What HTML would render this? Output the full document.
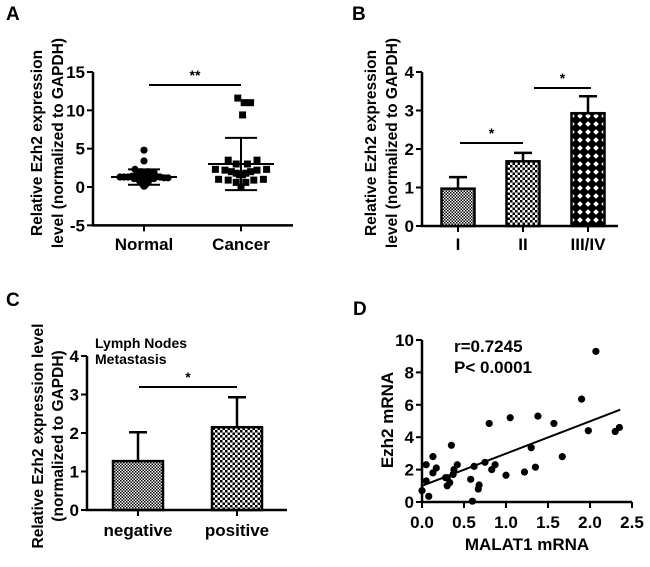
<!DOCTYPE html>
<html><head><meta charset="utf-8"><style>
body{margin:0;background:#fff}
svg text{font-family:"Liberation Sans",Arial,sans-serif;font-weight:bold;fill:#000}
</style></head><body>
<svg id="fig" width="650" height="562" viewBox="0 0 650 562" xmlns="http://www.w3.org/2000/svg">
<defs>
<pattern id="pFine" width="3" height="3" patternUnits="userSpaceOnUse"><rect width="3" height="3" fill="#fff"/><rect width="1.5" height="1.5" fill="#000"/><rect x="1.5" y="1.5" width="1.5" height="1.5" fill="#000"/></pattern>
<pattern id="pMed" width="5" height="5" patternUnits="userSpaceOnUse"><rect width="5" height="5" fill="#fff"/><rect width="2.5" height="2.5" fill="#000"/><rect x="2.5" y="2.5" width="2.5" height="2.5" fill="#000"/></pattern>
<pattern id="pDiam" width="8" height="8" patternUnits="userSpaceOnUse"><rect width="8" height="8" fill="#000"/><path d="M4 1.2 L6.8 4 L4 6.8 L1.2 4 Z" fill="#fff"/></pattern>
</defs>
<g id="A"></g>
<g id="B"></g>
<g id="C"></g>
<g id="D"></g>
</svg>
<script>
// Panel A data
const aCategories=["Normal","Cancer"];
const aNormalValues=[4.8,3.4,2.3,2.0,2.0,1.9,1.8,1.6,1.5,1.5,1.4,1.4,1.3,1.3,1.3,1.2,1.2,1.2,1.1,1.1,1.0,1.0,0.9,0.8,0.7,0.6,0.5,0.4,0.3,0.2,0.1,1.3,1.2];
const aNormalOffsets=[0,0,-9,-3,4,10,-6,1,-8,8,-12,12,-16,16,-20,20,-4,4,-10,10,-6,6,-3,3,-4,4,-2,2,-1,1,0,-24,24];
const aCancerValues=[11.6,11.0,11.0,9.4,3.5,3.5,3.0,3.0,2.3,2.3,2.2,2.2,2.0,2.0,1.8,1.8,1.6,1.6,1.0,1.0,0.9,0.9,0.6,0.6,0.0];
const aCancerOffsets=[-2,2,6,1,-8,10,-3,4,-16,16,-10,10,-6,6,-3,3,-1,1,-14,14,-8,8,-3,3,0];
const aMeans=[1.3,3.0];
const aSD=[1.0,3.4];
const aTicks=[-5,0,5,10,15];
// Panel B data
const bCategories=["I","II","III/IV"];
const bValues=[0.97,1.68,2.93];
const bErrors=[0.3,0.22,0.44];
const bTicks=[0,1,2,3,4];
// Panel C data
const cCategories=["negative","positive"];
const cValues=[1.27,2.15];
const cErrors=[0.75,0.78];
const cTicks=[0,1,2,3,4];
// Panel D data
const dX=[0.0,0.05,0.05,0.08,0.13,0.13,0.17,0.28,0.3,0.33,0.35,0.37,0.38,0.42,0.58,0.6,0.62,0.67,0.68,0.75,0.8,0.83,0.87,1.0,1.05,1.22,1.3,1.35,1.38,1.57,1.67,1.9,1.98,2.07,2.3,2.35,0.3];
const dY=[0.7,2.3,1.3,0.35,2.8,1.8,2.1,1.5,1.0,1.2,3.5,1.7,2.0,2.3,1.4,0.05,2.2,0.8,1.05,2.45,4.85,2.0,2.3,1.65,5.2,1.85,3.35,2.15,5.3,4.85,2.8,6.35,4.4,9.3,4.35,4.6,1.5];
const dFitX=[0,2.36];
const dFitY=[1.0,5.7];
const dXTicks=[0,0.5,1,1.5,2,2.5];
const dYTicks=[0,2,4,6,8,10];

const NS="http://www.w3.org/2000/svg";
function mk(parent,tag,attrs,txt){const e=document.createElementNS(NS,tag);for(const k in attrs)e.setAttribute(k,attrs[k]);if(txt!==undefined)e.textContent=txt;parent.appendChild(e);return e;}
function lin(d0,d1,r0,r1){return v=>r0+(v-d0)*(r1-r0)/(d1-d0);}
function yAxis(g,x,y,ticks,fmt,y0,y1){
  const ax=mk(g,'line',{x1:x,x2:x,y1:y(ticks[0])+1,y2:y(ticks[ticks.length-1]),stroke:'#000','stroke-width':2.5});
  
  
  ticks.forEach(t=>{mk(g,'line',{x1:x-6,x2:x,y1:y(t),y2:y(t),stroke:'#000','stroke-width':2});
    const tx=mk(g,'text',{x:x-8,y:y(t)+6,'text-anchor':'end','font-size':17},fmt(t));
    
    });
}
function rotLabel(g,cx,cy,lines,size,gap){
  lines.forEach((l,i)=>{const t=mk(g,'text',{x:0,y:0,'text-anchor':'middle','font-size':size,transform:`translate(${cx+i*gap},${cy}) rotate(-90)`},l);
    
    });
}
function panelLetter(g,x,y,s){const t=mk(g,'text',{x:x,y:y,'font-size':19},s);
  
  }
function sig(g,x1,x2,y,s){mk(g,'line',{x1:x1,x2:x2,y1:y,y2:y,stroke:'#000','stroke-width':2});
  const t=mk(g,'text',{x:(x1+x2)/2,y:y-5,'text-anchor':'middle','font-size':14,'font-weight':'normal'},s);
  
  }

// ---- Panel A
(function(){
const g=document.getElementById('A');
panelLetter(g,6,20,'A');
const y=lin(0,15,187,72);
const xc=[144,241];
yAxis(g,93,y,aTicks,t=>t,0,0);
const xa=mk(g,'line',{x1:92,x2:293,y1:y(-5),y2:y(-5),stroke:'#000','stroke-width':2.5});


aCategories.forEach((c,i)=>{mk(g,'line',{x1:xc[i],x2:xc[i],y1:y(-5),y2:y(-5)+6,stroke:'#000','stroke-width':2});
  const t=mk(g,'text',{x:xc[i],y:250,'text-anchor':'middle','font-size':17},c);
  
  });
rotLabel(g,42,143,['Relative Ezh2 expression','level (normalized to GAPDH)'],15.5,21);
aNormalValues.forEach((v,i)=>{const c=mk(g,'circle',{cx:xc[0]+aNormalOffsets[i],cy:y(v),r:3.6,fill:'#000'});
  
  });
aCancerValues.forEach((v,i)=>{const r=mk(g,'rect',{x:xc[1]+aCancerOffsets[i]*1.6-3.5,y:y(v)-3.5,width:7,height:7,fill:'#000'});
  
  });
aMeans.forEach((m,i)=>{
  const eb=mk(g,'g',{});
  
  
  mk(eb,'line',{x1:xc[i]-33,x2:xc[i]+33,y1:y(m),y2:y(m),stroke:'#000','stroke-width':2});
  mk(eb,'line',{x1:xc[i],x2:xc[i],y1:y(m-aSD[i]),y2:y(m+aSD[i]),stroke:'#000','stroke-width':2});
  [m-aSD[i],m+aSD[i]].forEach(v=>mk(eb,'line',{x1:xc[i]-16,x2:xc[i]+16,y1:y(v),y2:y(v),stroke:'#000','stroke-width':2}));
});
sig(g,149,241,85,'**');
})();

// ---- bar helper
function bars(g,cats,vals,errs,xc,w,y,fills,labelY){
  cats.forEach((c,i)=>{
    const b=mk(g,'rect',{x:xc[i]-w/2,y:y(vals[i]),width:w,height:y(0)-y(vals[i]),fill:`url(#${fills[i]})`,stroke:'#000','stroke-width':2.5});
    
    
    mk(g,'line',{x1:xc[i],x2:xc[i],y1:y(vals[i]),y2:y(vals[i]+errs[i]),stroke:'#000','stroke-width':2.5});
    mk(g,'line',{x1:xc[i]-9,x2:xc[i]+9,y1:y(vals[i]+errs[i]),y2:y(vals[i]+errs[i]),stroke:'#000','stroke-width':2.5});
    mk(g,'line',{x1:xc[i],x2:xc[i],y1:y(0),y2:y(0)+6,stroke:'#000','stroke-width':2});
    const t=mk(g,'text',{x:xc[i],y:labelY,'text-anchor':'middle','font-size':17},c);
    
    
  });
}

// ---- Panel B
(function(){
const g=document.getElementById('B');
panelLetter(g,352,20,'B');
const y=lin(0,4,226,72);
yAxis(g,422,y,bTicks,t=>t);
const xa=mk(g,'line',{x1:421,x2:618,y1:y(0),y2:y(0),stroke:'#000','stroke-width':2.5});


rotLabel(g,376,143,['Relative Ezh2 expression','level (normalized to GAPDH)'],15.5,21);
bars(g,bCategories,bValues,bErrors,[458,523,588],33,y,['pFine','pMed','pDiam'],250);
sig(g,460,523,143,'*');
sig(g,534,591,88,'*');
})();

// ---- Panel C
(function(){
const g=document.getElementById('C');
panelLetter(g,6,306,'C');
const y=lin(0,4,510,356);
yAxis(g,87,y,cTicks,t=>t);
const xa=mk(g,'line',{x1:86,x2:287,y1:y(0),y2:y(0),stroke:'#000','stroke-width':2.5});


rotLabel(g,43,436,['Relative Ezh2 expression level','(normalized to GAPDH)'],15.5,20);
bars(g,cCategories,cValues,cErrors,[138,237],50,y,['pFine','pMed'],536);
sig(g,139,237,387,'*');
const l1=mk(g,'text',{x:95,y:348,'font-size':14},'Lymph Nodes');


const l2=mk(g,'text',{x:95,y:364,'font-size':14},'Metastasis');


})();

// ---- Panel D
(function(){
const g=document.getElementById('D');
panelLetter(g,353,315,'D');
const y=lin(0,10,502,340);
const x=lin(0,2.5,422,632);
yAxis(g,422,y,dYTicks,t=>t);
const xa=mk(g,'line',{x1:421,x2:x(2.5),y1:y(0),y2:y(0),stroke:'#000','stroke-width':2.5});


dXTicks.forEach(t=>{mk(g,'line',{x1:x(t),x2:x(t),y1:y(0),y2:y(0)+6,stroke:'#000','stroke-width':2});
  const tx=mk(g,'text',{x:x(t),y:528,'text-anchor':'middle','font-size':17},t.toFixed(1));
  
  });
const xt=mk(g,'text',{x:527,y:550,'text-anchor':'middle','font-size':17},'MALAT1 mRNA');


rotLabel(g,393,420,['Ezh2 mRNA'],17,0);
dX.forEach((v,i)=>{const c=mk(g,'circle',{cx:x(v),cy:y(dY[i]),r:3.6,fill:'#000'});
  
  });
const fl=mk(g,'line',{x1:x(dFitX[0]),x2:x(dFitX[1]),y1:y(dFitY[0]),y2:y(dFitY[1]),stroke:'#000','stroke-width':2});


const r=mk(g,'text',{x:454,y:352,'font-size':17},'r=0.7245');


const p=mk(g,'text',{x:454,y:373,'font-size':17},'P< 0.0001');


})();
</script>
</body></html>
